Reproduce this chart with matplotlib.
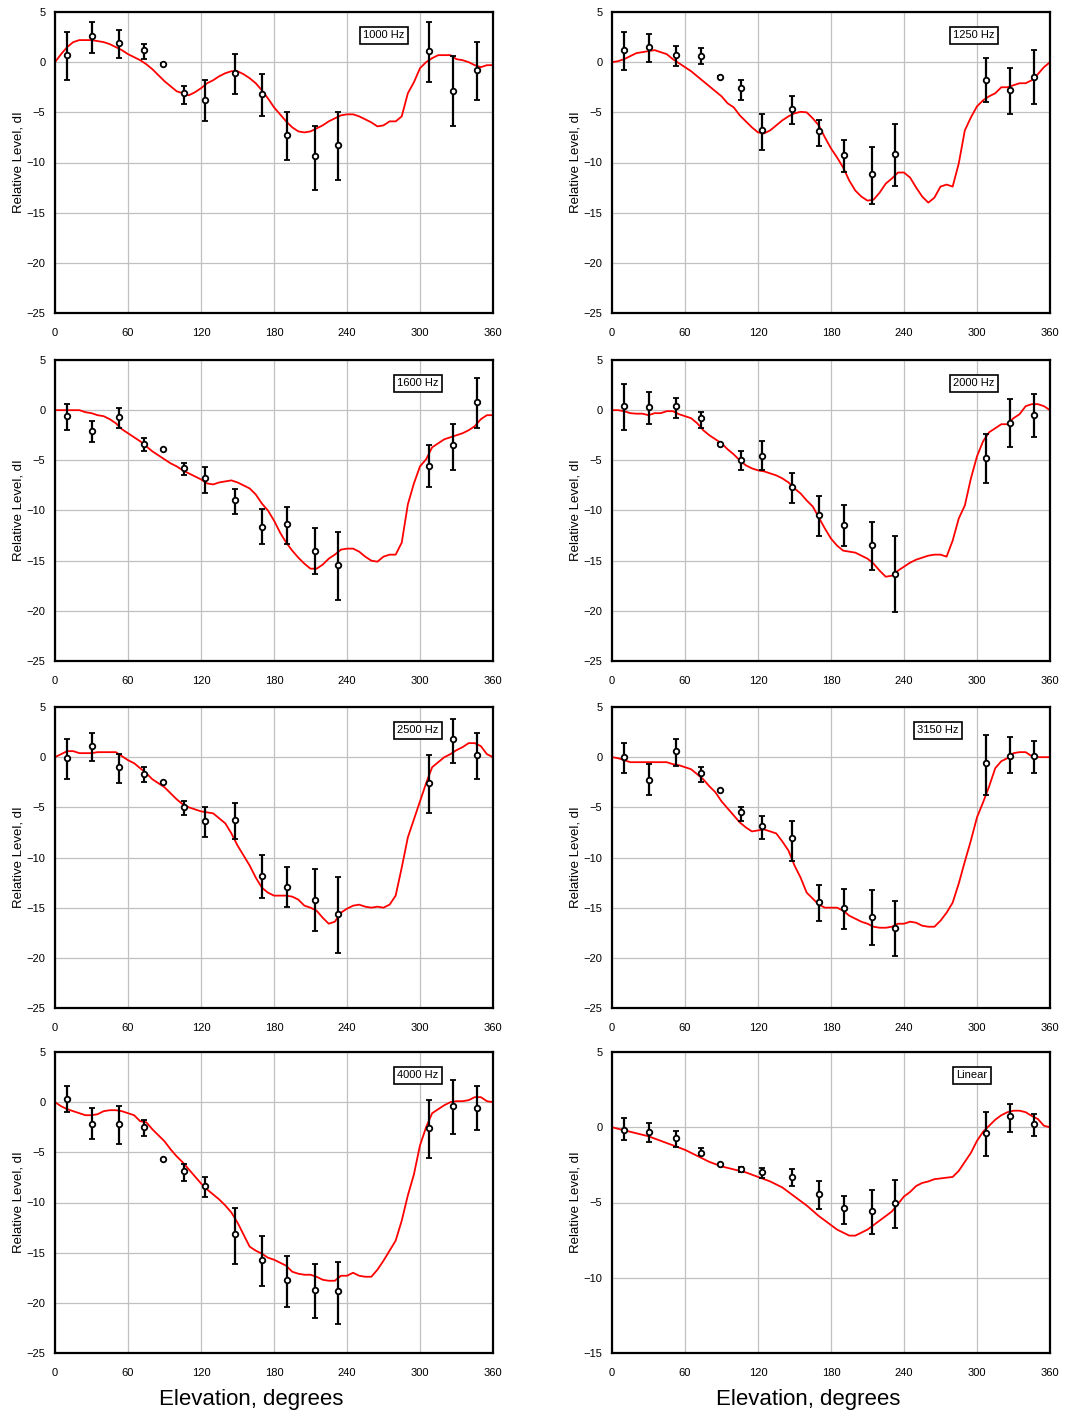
import numpy as np
import matplotlib
matplotlib.use("Agg")
import matplotlib.pyplot as plt

plt.rcParams['font.family'] = ['Liberation Sans', 'DejaVu Sans']

# measured points (elevation, degrees)
point_ang = [10, 30, 53, 73, 89, 106, 123, 148, 170, 191, 214, 233, 307, 327, 347]

# predicted curve, every 5 degrees
curve_ang = list(range(0, 361, 5))

titles = ['1000 Hz', '1250 Hz', '1600 Hz', '2000 Hz', '2500 Hz', '3150 Hz', '4000 Hz', 'Linear']

curve_1000 = [0, 0.8, 1.5, 2.0, 2.2, 2.2, 2.2, 2.1, 2.0, 1.8, 1.5, 1.2, 0.8, 0.5, 0.2, -0.2, -0.7, -1.3, -1.9,
              -2.4, -2.9, -3.1, -3.3, -3.0, -2.6, -2.1, -1.8, -1.4, -1.1, -0.9, -0.9, -1.2, -1.6, -2.1, -2.8,
              -3.6, -4.5, -5.2, -5.9, -6.5, -6.9, -7.0, -6.9, -6.6, -6.3, -5.9, -5.6, -5.3, -5.2, -5.2, -5.4,
              -5.7, -6.0, -6.4, -6.3, -5.9, -5.9, -5.4, -3.1, -2.0, -0.6, 0.0, 0.4, 0.7, 0.7, 0.7, 0.3, 0.2,
              0.0, -0.3, -0.5, -0.3, -0.3]
curve_1250 = [0, 0.1, 0.3, 0.6, 0.9, 1.0, 1.1, 1.2, 1.0, 0.8, 0.3, -0.1, -0.5, -0.9, -1.4, -1.9, -2.4, -2.9, -3.4,
              -4.1, -4.5, -5.3, -5.9, -6.5, -7.0, -7.1, -6.8, -6.3, -5.8, -5.4, -5.1, -4.95, -5.0, -5.6, -6.3,
              -7.5, -8.6, -9.5, -10.5, -11.8, -12.8, -13.4, -13.8, -13.7, -13.0, -12.1, -11.6, -11.0, -11.0,
              -11.5, -12.5, -13.4, -14.0, -13.5, -12.4, -12.2, -12.4, -10.1, -6.8, -5.5, -4.4, -3.8, -3.4,
              -3.1, -2.5, -2.5, -2.3, -2.1, -2.1, -1.8, -1.2, -0.5, 0.0]
curve_1600 = [0, 0, 0, 0, 0, -0.2, -0.3, -0.5, -0.6, -0.9, -1.3, -1.9, -2.3, -2.7, -3.1, -3.6, -4.1, -4.5, -4.9,
              -5.3, -5.6, -6.0, -6.3, -6.6, -6.9, -7.3, -7.4, -7.2, -7.1, -7.0, -7.2, -7.5, -7.8, -8.4, -9.3,
              -10.0, -11.0, -12.2, -13.2, -14.0, -14.7, -15.3, -15.8, -15.8, -15.4, -14.8, -14.4, -13.9, -13.8,
              -13.8, -14.1, -14.6, -15.0, -15.1, -14.6, -14.4, -14.4, -13.2, -9.4, -7.3, -5.6, -4.9, -3.7,
              -3.3, -2.9, -2.7, -2.5, -2.3, -2.0, -1.6, -0.9, -0.5, -0.5]
curve_2000 = [0, 0, -0.1, -0.3, -0.35, -0.35, -0.5, -0.3, -0.3, -0.1, -0.1, -0.4, -0.6, -0.8, -1.3, -2.0, -2.5,
              -2.9, -3.3, -3.9, -4.4, -5.0, -5.5, -5.8, -6.0, -6.1, -6.3, -6.5, -6.8, -7.2, -7.8, -8.3, -9.0,
              -9.6, -10.7, -11.8, -12.8, -13.5, -14.0, -14.1, -14.2, -14.5, -14.8, -15.3, -16.0, -16.6, -16.5,
              -16.0, -15.6, -15.2, -14.9, -14.7, -14.5, -14.4, -14.4, -14.6, -13.0, -10.8, -9.5, -6.8, -4.6,
              -3.1, -2.2, -1.8, -1.4, -1.4, -0.8, -0.4, 0.4, 0.6, 0.6, 0.4, 0.0]
curve_2500 = [0, 0.3, 0.6, 0.6, 0.4, 0.4, 0.4, 0.5, 0.5, 0.5, 0.5, 0.1, -0.3, -0.6, -1.1, -1.6, -2.2, -2.6, -3.0,
              -3.6, -4.2, -4.7, -5.0, -5.2, -5.4, -5.5, -5.6, -6.1, -6.6, -7.6, -8.8, -9.8, -10.8, -12.0, -13.0,
              -13.5, -13.8, -13.8, -13.8, -13.9, -14.2, -14.8, -15.0, -15.3, -16.0, -16.6, -16.4, -15.5, -15.1,
              -14.8, -14.7, -14.9, -15.0, -14.9, -15.0, -14.7, -13.8, -11.0, -8.0, -6.2, -4.4, -2.6, -1.0,
              -0.5, 0.0, 0.3, 0.7, 1.0, 1.4, 1.4, 1.1, 0.3, 0.0]
curve_3150 = [0, -0.1, -0.3, -0.5, -0.5, -0.5, -0.5, -0.5, -0.5, -0.5, -0.7, -0.8, -1.0, -1.2, -1.7, -2.2, -2.9,
              -3.5, -4.4, -5.1, -5.8, -6.5, -7.0, -7.4, -7.3, -7.2, -7.4, -7.6, -8.4, -9.3, -10.8, -12.0, -13.5,
              -14.1, -14.7, -15.0, -15.0, -15.0, -15.3, -15.8, -16.1, -16.4, -16.6, -16.9, -17.0, -17.0, -16.9,
              -16.6, -16.6, -16.4, -16.5, -16.8, -16.9, -16.9, -16.3, -15.5, -14.5, -12.6, -10.4, -8.3, -6.0,
              -4.5, -2.9, -1.1, -0.4, -0.1, 0.4, 0.5, 0.5, 0.1, 0.0, 0.0, 0.0]
curve_4000 = [0, -0.4, -0.7, -0.9, -1.1, -1.3, -1.3, -1.2, -0.9, -0.8, -0.8, -0.9, -1.1, -1.3, -1.9, -2.0, -2.7,
              -3.3, -3.9, -4.7, -5.4, -6.0, -6.7, -7.4, -8.1, -8.7, -9.2, -9.7, -10.3, -11.0, -12.0, -13.2,
              -14.4, -14.8, -15.1, -15.5, -15.7, -16.0, -16.3, -16.9, -17.1, -17.2, -17.2, -17.4, -17.7, -17.8,
              -17.8, -17.3, -17.3, -17.0, -17.3, -17.4, -17.4, -16.7, -15.8, -14.8, -13.8, -11.8, -9.3, -7.2,
              -4.3, -2.5, -1.1, -0.7, -0.3, 0.0, 0.1, 0.1, 0.2, 0.5, 0.5, 0.1, 0.0]
curve_lin = [0, -0.1, -0.2, -0.3, -0.4, -0.5, -0.6, -0.75, -0.9, -1.05, -1.2, -1.35, -1.5, -1.7, -1.9, -2.1, -2.3,
             -2.45, -2.6, -2.7, -2.8, -2.9, -3.0, -3.15, -3.3, -3.45, -3.6, -3.8, -4.0, -4.3, -4.6, -4.9, -5.2,
             -5.55, -5.9, -6.2, -6.5, -6.8, -7.0, -7.2, -7.2, -7.0, -6.8, -6.5, -6.2, -5.9, -5.6, -5.1, -4.6,
             -4.3, -3.9, -3.7, -3.6, -3.45, -3.4, -3.35, -3.3, -2.9, -2.3, -1.7, -0.9, -0.3, 0.1, 0.5, 0.8,
             1.0, 1.1, 1.1, 1.0, 0.75, 0.55, 0.1, 0.0]

# measured level, top and bottom of error bar
meas_1000 = [0.7, 2.6, 1.9, 1.25, -0.15, -3.05, -3.8, -1.05, -3.2, -7.25, -9.35, -8.25, 1.1, -2.85, -0.8]
hi_1000 = [3.0, 4.0, 3.2, 1.85, -0.1, -2.4, -1.8, 0.8, -1.2, -5.0, -6.35, -5.0, 4.0, 0.6, 2.0]
lo_1000 = [-1.8, 0.9, 0.4, 0.35, -0.2, -4.2, -5.9, -3.2, -5.4, -9.75, -12.7, -11.7, -1.95, -6.35, -3.8]

meas_1250 = [1.2, 1.5, 0.75, 0.6, -1.45, -2.6, -6.75, -4.65, -6.9, -9.25, -11.15, -9.15, -1.8, -2.8, -1.45]
hi_1250 = [3.0, 2.8, 1.6, 1.4, -1.4, -1.8, -5.2, -3.4, -5.75, -7.75, -8.5, -6.15, 0.45, -0.55, 1.2]
lo_1250 = [-0.8, 0.0, -0.4, -0.2, -1.5, -3.8, -8.75, -6.15, -8.35, -10.9, -14.1, -12.3, -3.95, -5.2, -4.2]

meas_1600 = [-0.55, -2.1, -0.65, -3.35, -3.9, -5.8, -6.8, -9.0, -11.6, -11.35, -14.0, -15.4, -5.55, -3.5, 0.8]
hi_1600 = [0.6, -1.1, 0.25, -2.8, -3.85, -5.3, -5.7, -7.9, -9.9, -9.7, -11.7, -12.1, -3.5, -1.35, 3.25]
lo_1600 = [-1.95, -3.2, -1.8, -4.1, -3.95, -6.5, -8.3, -10.3, -13.3, -13.3, -16.3, -18.9, -7.7, -5.95, -1.75]

meas_2000 = [0.45, 0.35, 0.45, -0.8, -3.35, -4.95, -4.55, -7.7, -10.45, -11.45, -13.4, -16.3, -4.8, -1.25, -0.45]
hi_2000 = [2.6, 1.85, 1.25, -0.15, -3.3, -4.1, -3.1, -6.3, -8.55, -9.5, -11.1, -12.5, -2.35, 1.1, 1.65]
lo_2000 = [-1.95, -1.35, -0.75, -1.75, -3.4, -5.95, -6.0, -9.3, -12.5, -13.5, -15.9, -20.1, -7.3, -3.7, -2.7]

meas_2500 = [-0.1, 1.1, -1.0, -1.65, -2.5, -4.95, -6.4, -6.3, -11.8, -12.9, -14.2, -15.6, -2.6, 1.8, 0.2]
hi_2500 = [1.85, 2.45, 0.35, -0.95, -2.45, -4.4, -4.95, -4.55, -9.8, -10.95, -11.1, -11.95, 0.2, 3.8, 2.4]
lo_2500 = [-2.15, -0.4, -2.6, -2.45, -2.55, -5.8, -8.0, -8.15, -14.0, -14.9, -17.35, -19.5, -5.55, -0.55, -2.15]

meas_3150 = [0.0, -2.3, 0.65, -1.55, -3.3, -5.5, -6.9, -8.1, -14.4, -15.05, -15.9, -17.0, -0.6, 0.15, 0.1]
hi_3150 = [1.4, -0.7, 1.8, -0.95, -3.25, -4.95, -5.9, -6.35, -12.7, -13.1, -13.25, -14.3, 2.2, 2.0, 1.6]
lo_3150 = [-1.6, -3.8, -0.9, -2.5, -3.35, -6.35, -8.2, -10.35, -16.3, -17.1, -18.7, -19.85, -3.8, -1.6, -1.6]

meas_4000 = [0.35, -2.2, -2.2, -2.45, -5.7, -6.9, -8.35, -13.1, -15.7, -17.75, -18.75, -18.85, -2.6, -0.4, -0.55]
hi_4000 = [1.6, -0.55, -0.4, -1.8, -5.65, -6.15, -7.5, -10.5, -13.3, -15.3, -16.1, -15.9, 0.2, 2.2, 1.6]
lo_4000 = [-0.95, -3.7, -4.2, -3.35, -5.75, -7.9, -9.5, -16.1, -18.3, -20.45, -21.5, -22.1, -5.6, -3.2, -2.8]

meas_lin = [-0.15, -0.3, -0.7, -1.7, -2.45, -2.8, -2.95, -3.3, -4.45, -5.35, -5.55, -5.05, -0.4, 0.75, 0.2]
hi_lin = [0.6, 0.25, -0.25, -1.4, -2.42, -2.65, -2.7, -2.8, -3.6, -4.55, -4.15, -3.5, 1.0, 1.55, 0.85]
lo_lin = [-0.85, -0.95, -1.3, -1.85, -2.48, -2.95, -3.35, -3.9, -5.4, -6.45, -7.1, -6.7, -1.9, -0.3, -0.6]

curves = [curve_1000, curve_1250, curve_1600, curve_2000, curve_2500, curve_3150, curve_4000, curve_lin]
meas = [meas_1000, meas_1250, meas_1600, meas_2000, meas_2500, meas_3150, meas_4000, meas_lin]
his = [hi_1000, hi_1250, hi_1600, hi_2000, hi_2500, hi_3150, hi_4000, hi_lin]
los = [lo_1000, lo_1250, lo_1600, lo_2000, lo_2500, lo_3150, lo_4000, lo_lin]

fig = plt.figure(figsize=(10.65, 14.14), dpi=100)

W, H = 1065.0, 1414.0
lefts = [55, 612]
tops = [12, 360, 707, 1052]
aw, ah = 438, 301
# left edge of the label box, axes fraction
box_x = [0.703, 0.779, 0.781, 0.779, 0.781, 0.697, 0.781, 0.786]

for i in range(8):
    r, c = divmod(i, 2)
    ax = fig.add_axes([lefts[c] / W, 1 - (tops[r] + ah) / H, aw / W, ah / H])
    ax.plot(curve_ang, curves[i], color='#ff0000', lw=1.3, zorder=2)
    y = np.array(meas[i])
    yerr = [y - np.array(los[i]), np.array(his[i]) - y]
    ax.errorbar(point_ang, y, yerr=yerr, fmt='o', ms=4, mfc='white', mec='black', mew=1.3,
                ecolor='black', elinewidth=1.6, capsize=2.5, capthick=1.5, zorder=3)
    ax.set_xlim(0, 360)
    ax.set_xticks(range(0, 361, 60))
    if i == 7:
        ax.set_ylim(-15, 5)
        ax.set_yticks(range(-15, 6, 5))
    else:
        ax.set_ylim(-25, 5)
        ax.set_yticks(range(-25, 6, 5))
    ax.grid(True, color='#c0c0c0', lw=0.9)
    ax.set_axisbelow(True)
    ax.tick_params(length=0, labelsize=8, pad=7)
    ax.tick_params(axis='x', pad=11)
    for s in ax.spines.values():
        s.set_linewidth(1.6)
    ax.set_ylabel('Relative Level, dI', fontsize=9.5)
    ax.yaxis.set_label_coords(-0.069, 0.5)
    ax.text(box_x[i], 0.923, titles[i], transform=ax.transAxes, fontsize=8,
            ha='left', va='center',
            bbox=dict(boxstyle='square,pad=0.3', fc='white', ec='black', lw=1.2))
    if r == 3:
        ax.set_xlabel('Elevation, degrees', fontsize=16)
        ax.xaxis.set_label_coords(0.448, -0.12)

fig.savefig('out.png', dpi=100)
